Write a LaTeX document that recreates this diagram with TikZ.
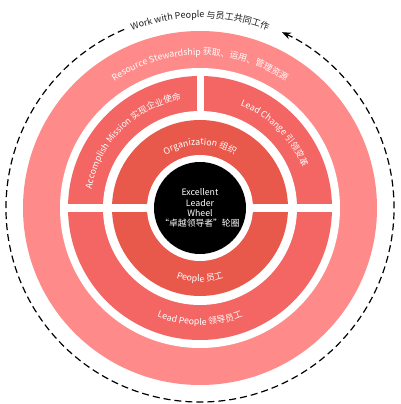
\documentclass[tikz,border=0pt]{standalone}
\usepackage{fontspec}
\setmainfont{Noto Sans CJK SC}
\usepackage{tikz}
\usetikzlibrary{arrows.meta, decorations.text}

\definecolor{rosaChiaro}{HTML}{FE8B8A}
\definecolor{rosaMedio}{HTML}{F36663}
\definecolor{rosaScuro}{HTML}{E8584B}
\definecolor{grigioTesto}{HTML}{1E1E1E}

\begin{document}
\begin{tikzpicture}[
          % Stile delle corone colorate
          corona/.style={
              fill=#1
          },
          % Stile dei tagli bianchi tra i settori
          divisore/.style={
              fill=white
          },
          % Stile del mozzo centrale
          mozzo/.style={
              circle,
              fill=black,
              minimum size=92pt,
              inner sep=0pt,
              text=white,
              align=center,
              font=\fontsize{8.8pt}{10.2pt}\selectfont
          },
          % Stile delle scritte curve sulle corone
          etichetta/.style={
              decorate,
              decoration={text along path, text align=center,
                  text={|\fontsize{8.8pt}{10pt}\selectfont\color{white}|#1}}
          },
          % Stile della scritta sul cerchio esterno
          didascalia/.style={
              decorate,
              decoration={text along path, text align=center,
                  text={|\fontsize{9pt}{10pt}\selectfont\color{grigioTesto}|#1}}
          },
          % Stile del cerchio tratteggiato con la punta
          tratteggio/.style={
              -{Stealth[length=9pt, width=7pt]},
              dash pattern=on 7pt off 4pt,
              line width=1.2pt
          }
      ]

          % 0. Sfondo e margini
          \fill [white] (-200pt,-196pt) rectangle (200pt,208pt);
          \useasboundingbox (-200pt,-196pt) rectangle (200pt,208pt);

          % 1. Corona esterna (Resource Stewardship)
          \fill [corona=rosaChiaro] (0,0) circle[radius=177pt];
          \fill [divisore] (0,0) circle[radius=140pt];

          % 2. Corona intermedia (Accomplish Mission, Lead Change, Lead People)
          \fill [corona=rosaMedio] (0,0) circle[radius=132pt];
          \fill [divisore] (0,0) circle[radius=97pt];

          % 3. Corona interna (Organization, People)
          \fill [corona=rosaScuro] (0,0) circle[radius=88pt];

          % 4. Tagli bianchi
          \fill [divisore] (-136pt,-4pt) rectangle (136pt,4pt);
          \fill [divisore] (-3.5pt,90pt) rectangle (3.5pt,136pt);
          \fill [divisore] (0,0) circle[radius=53pt];

          % 5. Mozzo centrale
          \node [mozzo] (ruota) at (0,0) {Excellent\\Leader\\Wheel\\“卓越领导者”轮圈};

          % 6. Scritte curve
          \path [etichetta={Resource Stewardship 获取、运用、管理资源}]
              (150:153pt) arc[start angle=150, end angle=30, radius=153pt];
          \path [etichetta={Accomplish Mission 实现企业使命}]
              (195:110pt) arc[start angle=195, end angle=75, radius=110pt];
          \path [etichetta={Lead Change 引领变革}]
              (105:110pt) arc[start angle=105, end angle=-15, radius=110pt];
          \path [etichetta={Organization 组织}]
              (150:63pt) arc[start angle=150, end angle=30, radius=63pt];
          \path [etichetta={People 员工}]
              (210:74pt) arc[start angle=210, end angle=330, radius=74pt];
          \path [etichetta={Lead People 领导员工}]
              (210:117pt) arc[start angle=210, end angle=330, radius=117pt];

          % 7. Cerchio tratteggiato con freccia (Work with People)
          \draw [tratteggio] (113:194pt) arc[start angle=113, end angle=425, radius=194pt];
          \path [didascalia={Work with People 与员工共同工作}]
              (150:190pt) arc[start angle=150, end angle=30, radius=190pt];

      \end{tikzpicture}
\end{document}
